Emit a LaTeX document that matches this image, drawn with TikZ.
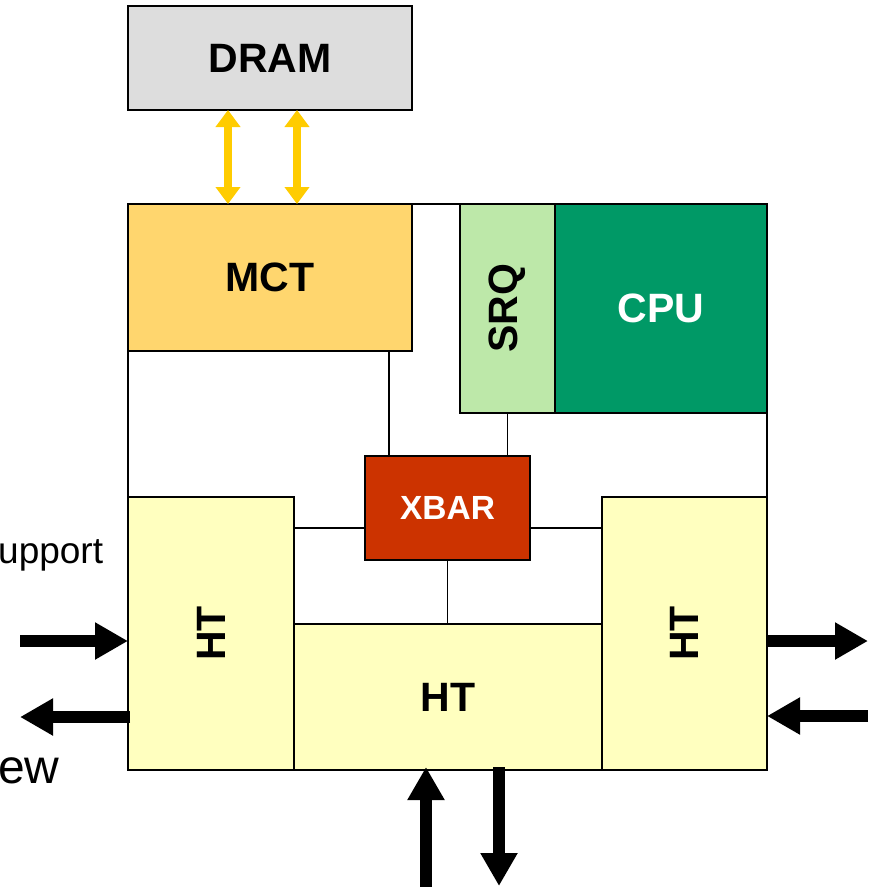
\documentclass[tikz,border=0pt]{standalone}
\usepackage{fontspec}
\setmainfont{Liberation Sans}
\usepackage{graphicx}
\usetikzlibrary{arrows.meta,positioning}
\definecolor{dramgray}{HTML}{DDDDDD}
\definecolor{mctorange}{HTML}{FFD66E}
\definecolor{srqgreen}{HTML}{BDE8A9}
\definecolor{cpugreen}{HTML}{009966}
\definecolor{xbarred}{HTML}{CC3300}
\definecolor{htyellow}{HTML}{FFFFBF}
\definecolor{busyellow}{HTML}{FFCC00}
\tikzset{
  % unit style is used for every block of the chip
  unit/.style={draw, rectangle, line width=1.6pt, inner sep=0pt, outer sep=0pt,
  anchor=north west,
  font=\bfseries\fontsize{41}{41}\selectfont},
  link/.style={line width=1.5pt},
  bus/.style={line width=12pt, -{Triangle[length=33pt,width=35pt]}},
  membus/.style={busyellow, line width=8pt,
  {Triangle[length=17pt,width=24pt]}-{Triangle[length=17pt,width=24pt]}}}

\begin{document}
\begin{tikzpicture}[x=1pt, y=-1pt]
\useasboundingbox (0,0) rectangle (874,887);

\draw (128,6) node (dram) [unit, minimum width=284pt, minimum height=104pt, fill=dramgray] {DRAM};

\draw (128,204) node (mct) [unit, minimum width=284pt, minimum height=147pt, fill=mctorange] {MCT};
\draw (460,204) node (srq) [unit, minimum width=95pt, minimum height=209pt, fill=srqgreen] {\rotatebox{90}{SRQ}};
\draw (srq.north east) node (cpu) [unit, minimum width=212pt, minimum height=209pt, fill=cpugreen, text=white] {CPU};

\draw (365,456) node (xbar) [unit, minimum width=165pt, minimum height=104pt, fill=xbarred, text=white,
  font=\bfseries\fontsize{33.5}{33.5}\selectfont] {XBAR};

\draw (128,497) node (htl) [unit, minimum width=166pt, minimum height=273pt, fill=htyellow] {\rotatebox{90}{HT}};
\draw (htl.south east) node (htb) [unit, anchor=south west, minimum width=308pt, minimum height=146pt, fill=htyellow] {HT};
\draw (htb.south east) node (htr) [unit, anchor=south west, minimum width=165pt, minimum height=273pt, fill=htyellow] {\rotatebox{90}{HT}};

% outer frame of the chip
\draw [link] (mct.north east) -- (srq.north west);
\draw [link] (mct.south west) -- (htl.north west);
\draw [link] (cpu.south east) -- (htr.north east);

% links to the crossbar
\draw [link] ([xshift=24pt]xbar.north west) -- ([xshift=24pt]xbar.north west |- mct.south);
\draw [link] (srq.south) -- (srq.south |- xbar.north);
\draw [link] ([yshift=-20pt]xbar.west) -- ([yshift=-20pt]xbar.west -| htl.east);
\draw [link] ([yshift=-20pt]xbar.east) -- ([yshift=-20pt]xbar.east -| htr.west);
\draw [link] (xbar.south) -- (xbar.south |- htb.north);

% memory bus
\draw [membus] ([xshift=-42pt]dram.south) -- ([xshift=-42pt]dram.south |- mct.north);
\draw [membus] ([xshift=27pt]dram.south) -- ([xshift=27pt]dram.south |- mct.north);

% HT links
\coordinate (lin) at (20,641);
\coordinate (lout) at (20,717);
\coordinate (rout) at (868,641);
\coordinate (rin) at (868,716);
\coordinate (bin) at (426,887);
\coordinate (bout) at (499,886);
\draw [bus] (lin) -- (lin -| htl.west);
\draw [bus] ([xshift=2pt]lout -| htl.west) -- (lout);
\draw [bus] (rout -| htr.east) -- (rout);
\draw [bus] (rin) -- (rin -| htr.east);
\draw [bus] (bin) -- ([yshift=3pt]bin |- htb.south);
\draw [bus] ([yshift=3pt]bout |- htb.south) -- (bout);

\node (supp) [anchor=base west, inner sep=0pt, font=\fontsize{37}{37}\selectfont] at (-2,563) {upport};
\node (view) [anchor=base west, inner sep=0pt, font=\fontsize{48}{48}\selectfont] at (-2,783) {ew};

\end{tikzpicture}
\end{document}
